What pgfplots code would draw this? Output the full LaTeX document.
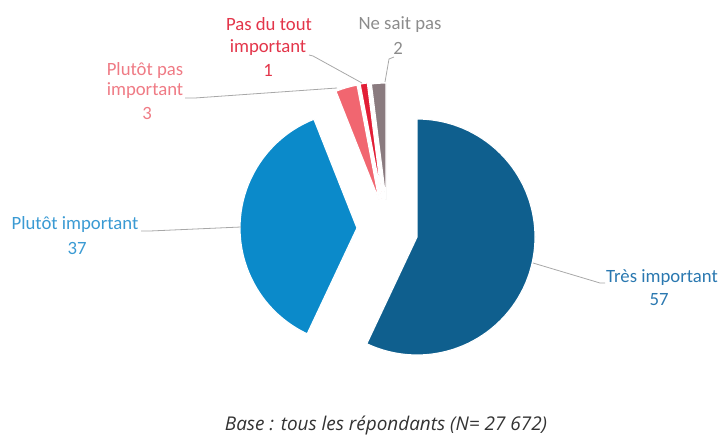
\documentclass[border=0pt]{standalone}
\usepackage{pgfplots}
\usepackage{pgfplotstable}
\pgfplotsset{compat=1.18}
\usepackage{fontspec}
\setmainfont{Carlito}
\newfontfamily\basefont{Open Sans}
\definecolor{sA}{HTML}{0F5F8E}
\definecolor{sB}{HTML}{0B8ACA}
\definecolor{sC}{HTML}{F16670}
\definecolor{sD}{HTML}{E21E36}
\definecolor{sE}{HTML}{8A7B7F}
\definecolor{tA}{HTML}{2A78B0}
\definecolor{tB}{HTML}{3A9AD3}
\definecolor{tC}{HTML}{EF7B85}
\definecolor{tD}{HTML}{E3354A}
\definecolor{tE}{HTML}{8C8C8C}
\definecolor{lead}{HTML}{A8A8A8}

% value = percentage; tipx/tipy = position of the slice tip (exploded), r = radius
\pgfplotstableread{
label value tipx tipy r col
TresImportant 57 417 237 118 sA
PlutotImportant 37 357 228 117 sB
PlutotPas 3 379 200 117 sC
PasDuTout 1 382 199 117 sD
NeSaitPas 2 386 200 117 sE
}\piedata

\begin{document}
\begin{tikzpicture}
\begin{axis}[x=1bp,y=1bp,xmin=0,xmax=721,ymin=0,ymax=436,y dir=reverse,
  hide axis,clip=false,enlargelimits=false]
\path (axis cs:0,0) (axis cs:721,436);
\def\cum{0}
\pgfplotsforeachungrouped \i in {0,...,4}{%
  \pgfplotstablegetelem{\i}{value}\of\piedata \let\v\pgfplotsretval
  \pgfplotstablegetelem{\i}{tipx}\of\piedata \let\tx\pgfplotsretval
  \pgfplotstablegetelem{\i}{tipy}\of\piedata \let\ty\pgfplotsretval
  \pgfplotstablegetelem{\i}{r}\of\piedata \let\rr\pgfplotsretval
  \pgfplotstablegetelem{\i}{col}\of\piedata \let\cc\pgfplotsretval
  \pgfmathsetmacro\sa{90-3.6*\cum}%
  \pgfmathsetmacro\ea{90-3.6*(\cum+\v)}%
  \pgfmathsetmacro\cum{\cum+\v}%
  \edef\cmd{\noexpand\fill[\cc,draw=white,line width=1.2bp,line join=round] (axis cs:\tx,\ty) -- ++(\sa:\rr bp) arc[start angle=\sa,end angle=\ea,radius=\rr bp] -- cycle;}%
  \cmd
}
% leader lines
\draw[lead,line width=0.8bp] (axis cs:533,263) -- (axis cs:600,283) -- (axis cs:605,283);
\draw[lead,line width=0.8bp] (axis cs:141,231) -- (axis cs:150,231) -- (axis cs:241,227);
\draw[lead,line width=0.8bp] (axis cs:185,98) -- (axis cs:195,98) -- (axis cs:337,88);
\draw[lead,line width=0.8bp] (axis cs:309,55) -- (axis cs:313,56) -- (axis cs:362,83);
\draw[lead,line width=0.8bp] (axis cs:394,57) -- (axis cs:389,59) -- (axis cs:385,82);
% labels
\tikzset{lbl/.style={anchor=base,font=\fontsize{18.8}{20}\selectfont,inner sep=0pt}}
\node[lbl,tA] at (axis cs:662,283) {Très important};
\node[lbl,tA] at (axis cs:659,306) {57};
\node[lbl,tB] at (axis cs:75,230) {Plutôt important};
\node[lbl,tB] at (axis cs:77,255) {37};
\node[lbl,tC] at (axis cs:145,76) {Plutôt pas};
\node[lbl,tC] at (axis cs:145,96) {important};
\node[lbl,tC] at (axis cs:147,120) {3};
\node[lbl,tD] at (axis cs:269,31) {Pas du tout};
\node[lbl,tD] at (axis cs:268,53) {important};
\node[lbl,tD] at (axis cs:268,77) {1};
\node[lbl,tE] at (axis cs:400,30) {Ne sait pas};
\node[lbl,tE] at (axis cs:398,55) {2};
\node[anchor=base,inner sep=0pt,text=black!80,font=\basefont\fontsize{19}{21}\selectfont\itshape] at (axis cs:386,430) {Base : tous les répondants (N= 27 672)};
\end{axis}
\end{tikzpicture}
\end{document}
